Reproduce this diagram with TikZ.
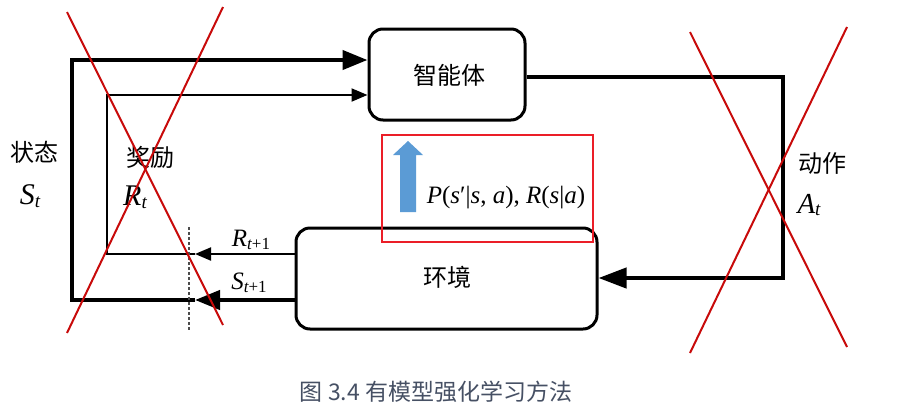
\documentclass[tikz,border=0pt]{standalone}
\usepackage{fontspec}
\newfontfamily\cjk{Noto Sans CJK SC}
\newfontfamily\tms{Liberation Serif}
\usetikzlibrary{arrows.meta}
\definecolor{xred}{RGB}{200,10,10}
\definecolor{rectred}{RGB}{235,30,40}
\definecolor{arrblue}{RGB}{91,155,213}
\definecolor{capcol}{RGB}{70,80,100}
% variable with subscript: #1 main size, #2 sub size, #3 letter, #4 subscript
\newcommand{\myvar}[4]{{\tms\itshape\fontsize{#1}{#1}\selectfont #3}\raisebox{-0.28em}{\tms\fontsize{#2}{#2}\selectfont #4}}
\newcommand{\iv}[1]{{\itshape #1}}
\tikzset{
  box/.style={draw, line width=3pt, rounded corners=14pt, fill=white},
  thk/.style={line width=4.2pt},
  thn/.style={line width=2pt},
  bigtip/.style={-{Triangle[length=25pt,width=19pt]}},
  smalltip/.style={-{Triangle[length=16pt,width=13pt]}},
  cjklabel/.style={font=\cjk\fontsize{24}{28}\selectfont, inner sep=0pt},
  varlabel/.style={inner sep=0pt},
  cross/.style={draw=xred, line width=2pt},
}
\begin{document}
\begin{tikzpicture}[x=1pt,y=-1pt]
\useasboundingbox[fill=white] (0,0) rectangle (921,413);

% boxes
\node[box, minimum width=156pt, minimum height=91pt] (agent) at (447,74.5) {};
\node[cjklabel] (agenttext) at (449,75) {智能体};
\node[box, minimum width=301pt, minimum height=101pt] (env) at (446.5,278.5) {};
\node[cjklabel] (envtext) at (447,277) {环境};

% coordinates
\coordinate (sT) at (195,300);
\coordinate (oBL) at (72,300);
\coordinate (oTL) at (72,60);
\coordinate (rT) at (195,254);
\coordinate (iBL) at (107,254);
\coordinate (iTL) at (107,95);
\coordinate (aTR) at (783,77);
\coordinate (aBR) at (783,278);

% state loop
\draw[thk, bigtip] (env.west |- sT) -- (sT);
\draw[thk, bigtip, line join=miter] (sT) -- (oBL) -- (oTL) -- (agent.west |- oTL);
% reward loop
\draw[thn, smalltip] (env.west |- rT) -- (rT);
\draw[thn, smalltip, line join=miter] (rT) -- (iBL) -- (iTL) -- (agent.west |- iTL);
% action loop
\draw[thk, -{Triangle[length=28pt,width=20pt]}, line join=miter] (agent.east |- aTR) -- (aTR) -- (aBR) -- (env.east |- aBR);

% dashed separator
\coordinate (dTop) at (189,227);
\coordinate (dBot) at (189,330);
\draw[line width=1.3pt, dash pattern=on 3pt off 2pt, black!70] (dTop) -- (dBot);

% labels
\node[cjklabel] (lstate) at (34,152) {状态};
\node[varlabel] (lSt) at (30,196) {\myvar{30}{19}{S}{\itshape t}};
\node[cjklabel] (lreward) at (150,157) {奖励};
\node[varlabel] (lRt) at (135,197) {\myvar{30}{19}{R}{\itshape t}};
\node[varlabel] (lR1) at (251,240) {\myvar{25}{17}{R}{\itshape t\upshape +1}};
\node[varlabel] (lS1) at (249,283) {\myvar{25}{17}{S}{\itshape t\upshape +1}};
\node[cjklabel] (laction) at (822,163) {动作};
\node[varlabel] (lAt) at (809,205) {\myvar{29}{19}{A}{\itshape t}};

% model box
\fill[arrblue] (400,212) -- (400,155) -- (393,155) -- (408,141) -- (423,155) -- (416,155) -- (416,212) -- cycle;
\node[font=\tms\fontsize{25}{28}\selectfont, inner sep=0pt] (model) at (506,198) {\iv{P}(\iv{s}′|\iv{s}, \iv{a}), \iv{R}(\iv{s}|\iv{a})};
\node[draw=rectred, line width=2.5pt, minimum width=211pt, minimum height=107pt, inner sep=0pt] (mbox) at (487.5,188.5) {};

% red crosses
\coordinate (c1a) at (67,12);
\coordinate (c1b) at (223,325);
\coordinate (c1c) at (223,7);
\coordinate (c1d) at (67,333);
\draw[cross] (c1a) -- (c1b);
\draw[cross] (c1c) -- (c1d);
\coordinate (c2a) at (690,32);
\coordinate (c2b) at (847,347);
\coordinate (c2c) at (847,27);
\coordinate (c2d) at (690,353);
\draw[cross] (c2a) -- (c2b);
\draw[cross] (c2c) -- (c2d);

% caption
\node[font=\cjk\fontsize{23}{27}\selectfont, text=capcol, inner sep=0pt] (caption) at (436,392) {图 3.4 有模型强化学习方法};
\end{tikzpicture}
\end{document}
